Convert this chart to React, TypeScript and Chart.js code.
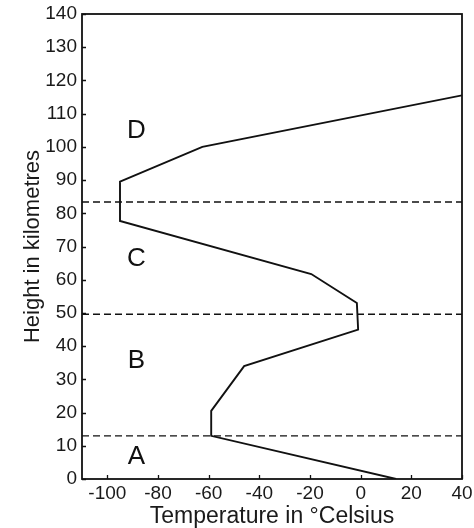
import { useEffect, useRef } from 'react';
import { Chart, registerables } from 'chart.js';

Chart.register(...registerables);

// Temperature profile of the atmosphere
const profileTemp = [14, -59, -59, -46, -1, -1.5, -19.5, -95, -95, -62.5, 40];
const profileHeight = [0, 13, 20.5, 34, 45, 53, 61.7, 77.7, 89.5, 100, 115.5];

// Layer boundaries (dashed lines), km
const boundaryHeights = [13, 49.6, 83.4];

// Layer names and where they sit (temperature, height)
const layerNames = ['A', 'B', 'C', 'D'];
const layerLabelTemp = [-88.5, -88.5, -88.5, -88.5];
const layerLabelHeight = [6.6, 35.5, 66.2, 104.8];

const xTickValues = [-100, -80, -60, -40, -20, 0, 20, 40];
const xMin = -110;
const xMax = 40;
const yMin = 0;
const yMax = 140;

const FONT = "'Liberation Sans', Arial, sans-serif";

const framePlugin = {
  id: 'frameAndLabels',
  afterDraw(chart: any) {
    const { ctx, chartArea, scales } = chart;
    const xs = scales.x;
    const ys = scales.y;
    ctx.save();
    // frame
    ctx.strokeStyle = '#111';
    ctx.lineWidth = 1.8;
    ctx.strokeRect(chartArea.left, chartArea.top, chartArea.right - chartArea.left, chartArea.bottom - chartArea.top);
    // inward ticks
    ctx.lineWidth = 1.3;
    ctx.beginPath();
    xs.ticks.forEach((t: any) => {
      const px = Math.round(xs.getPixelForValue(t.value)) + 0.5;
      ctx.moveTo(px, chartArea.bottom);
      ctx.lineTo(px, chartArea.bottom - 4);
    });
    ys.ticks.forEach((t: any) => {
      const py = Math.round(ys.getPixelForValue(t.value)) + 0.5;
      ctx.moveTo(chartArea.left, py);
      ctx.lineTo(chartArea.left + 4, py);
    });
    ctx.stroke();
    // layer labels
    ctx.fillStyle = '#111';
    ctx.font = `26px ${FONT}`;
    ctx.textAlign = 'center';
    ctx.textBaseline = 'middle';
    layerNames.forEach((n, i) => {
      ctx.fillText(n, xs.getPixelForValue(layerLabelTemp[i]), ys.getPixelForValue(layerLabelHeight[i]));
    });
    ctx.restore();
  },
};

const zeroPadding = (s: any) => {
  s.paddingTop = 0;
  s.paddingBottom = 0;
  s.paddingLeft = 0;
  s.paddingRight = 0;
};

export default function App() {
  const ref = useRef<HTMLCanvasElement | null>(null);

  useEffect(() => {
    document.body.style.margin = '0';
    const canvas = ref.current;
    if (!canvas) return;

    const profile = profileTemp.map((t, i) => ({ x: t, y: profileHeight[i] }));
    const dashed = boundaryHeights.map((h) => ({
      type: 'line' as const,
      data: [
        { x: xMin, y: h },
        { x: xMax, y: h },
      ],
      borderColor: '#111',
      borderWidth: 1.3,
      borderDash: [7, 4],
      pointRadius: 0,
      fill: false,
    }));

    const chart = new Chart(canvas, {
      type: 'line',
      data: {
        datasets: [
          {
            data: profile,
            borderColor: '#111',
            borderWidth: 1.9,
            pointRadius: 0,
            tension: 0,
            fill: false,
          },
          ...dashed,
        ],
      },
      options: {
        responsive: false,
        animation: false,
        parsing: false as any,
        layout: { padding: { top: 14, right: 12, left: 0, bottom: 0 } },
        plugins: {
          legend: { display: false },
          tooltip: { enabled: false },
          title: { display: false },
        },
        scales: {
          x: {
            type: 'linear',
            min: xMin,
            max: xMax,
            grid: { display: false, drawTicks: false },
            border: { display: false },
            afterBuildTicks: (s: any) => {
              s.ticks = xTickValues.map((v) => ({ value: v }));
            },
            afterFit: (s: any) => {
              s.height = 49;
              zeroPadding(s);
            },
            ticks: {
              color: '#1a1a1a',
              font: { family: FONT, size: 19 },
              padding: 3,
              maxRotation: 0,
              autoSkip: false,
            },
            title: {
              display: true,
              text: 'Temperature in °Celsius',
              color: '#1a1a1a',
              font: { family: FONT, size: 23, lineHeight: 1 },
              padding: { top: 0, bottom: 0 },
            },
          },
          y: {
            type: 'linear',
            min: yMin,
            max: yMax,
            grid: { display: false, drawTicks: false },
            border: { display: false },
            afterFit: (s: any) => {
              s.width = 82;
              zeroPadding(s);
            },
            ticks: {
              stepSize: 10,
              color: '#1a1a1a',
              font: { family: FONT, size: 19 },
              padding: 5,
            },
            title: {
              display: true,
              text: 'Height in kilometres',
              color: '#1a1a1a',
              font: { family: FONT, size: 22, lineHeight: 1 },
              padding: { top: 22, bottom: 0 },
            },
          },
        },
      },
      plugins: [framePlugin],
    });

    return () => chart.destroy();
  }, []);

  return (
    <div style={{ width: 474, height: 528, background: '#fff' }}>
      <canvas ref={ref} width={474} height={528} style={{ display: 'block' }} />
    </div>
  );
}
